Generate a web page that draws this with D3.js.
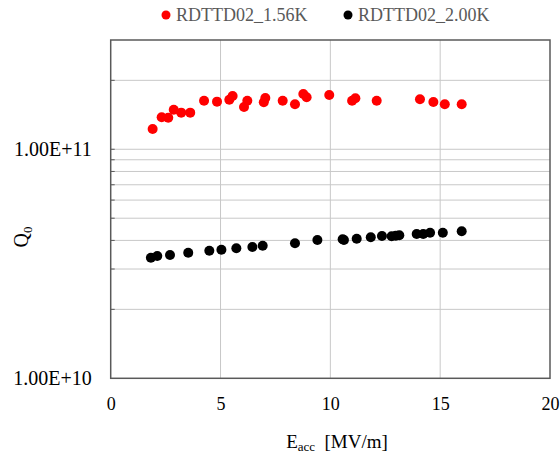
<!DOCTYPE html>
<html lang="en">
<head>
<meta charset="utf-8">
<title>Q0 vs Eacc</title>
<script src="https://cdn.jsdelivr.net/npm/d3@7"></script>
<style>
  body { margin: 0; background: #fff; }
  svg text { font-family: "Liberation Serif", "Times New Roman", serif; }
</style>
</head>
<body>
<svg id="chart" width="560" height="456"></svg>
<script>
// data: Eacc [MV/m], Q0
var eacc156 = [1.91, 2.32, 2.62, 2.87, 3.21, 3.62, 4.25, 4.84, 5.40, 5.55, 6.07, 6.22, 6.97, 7.04,
  7.83, 8.39, 8.77, 8.92, 9.95, 10.99, 11.14, 12.11, 14.08, 14.69, 15.21, 15.98];
var q156 = [1.227e11, 1.38e11, 1.374e11, 1.489e11, 1.445e11, 1.445e11, 1.63e11, 1.614e11, 1.646e11, 1.709e11,
  1.53e11, 1.63e11, 1.604e11, 1.675e11, 1.63e11, 1.573e11, 1.744e11, 1.687e11, 1.726e11, 1.63e11,
  1.67e11, 1.63e11, 1.654e11, 1.609e11, 1.573e11, 1.573e11];

var eacc200 = [1.83, 2.12, 2.70, 3.53, 4.49, 5.04, 5.72, 6.45, 6.92, 8.39, 9.41, 10.56, 10.62, 11.20,
  11.84, 12.35, 12.79, 12.98, 13.14, 13.93, 14.23, 14.54, 15.12, 15.98];
var q200 = [3.363e10, 3.42e10, 3.455e10, 3.536e10, 3.607e10, 3.644e10, 3.696e10, 3.745e10, 3.794e10,
  3.886e10, 4.018e10, 4.046e10, 4.02e10, 4.07e10, 4.127e10, 4.182e10, 4.169e10, 4.19e10, 4.21e10,
  4.266e10, 4.266e10, 4.323e10, 4.323e10, 4.385e10];

var seriesNames = ['RDTTD02_1.56K', 'RDTTD02_2.00K'];
var seriesColors = ['#ff0000', '#000000'];
var xTicks = [0, 5, 10, 15, 20];
var yLabelTicks = [1e10, 1e11];
var yGridTicks = [2e10, 3e10, 4e10, 5e10, 6e10, 7e10, 8e10, 9e10, 1e11, 2e11];

(function() {
  var svg = d3.select('#chart');
  var plotL = 110.7, plotR = 550, plotT = 40, plotB = 378.3;

  var x = d3.scaleLinear().domain([0, 20]).range([plotL, plotR]);
  var y = d3.scaleLog().domain([1e10, 3e11]).range([plotB, plotT]);

  // gridlines
  var grid = svg.append('g').attr('stroke', '#c8c8c8').attr('stroke-width', 1);
  grid.selectAll('line.h').data(yGridTicks).enter().append('line')
    .attr('x1', plotL).attr('x2', plotR)
    .attr('y1', function(d) { return y(d); }).attr('y2', function(d) { return y(d); });
  grid.selectAll('line.v').data(xTicks.slice(1, -1)).enter().append('line')
    .attr('y1', plotT).attr('y2', plotB)
    .attr('x1', function(d) { return x(d); }).attr('x2', function(d) { return x(d); });

  // small inner ticks on the left edge
  svg.append('g').attr('stroke', '#595959').selectAll('line').data(yGridTicks).enter().append('line')
    .attr('x1', plotL).attr('x2', plotL + 4)
    .attr('y1', function(d) { return y(d); }).attr('y2', function(d) { return y(d); });

  // plot frame
  svg.append('rect').attr('x', plotL).attr('y', plotT)
    .attr('width', plotR - plotL).attr('height', plotB - plotT)
    .attr('fill', 'none').attr('stroke', '#595959').attr('stroke-width', 1.5);

  // x tick labels
  var xAxis = d3.axisBottom(x).tickValues(xTicks).tickSize(0).tickPadding(19)
    .tickFormat(d3.format('d'));
  var gx = svg.append('g').attr('transform', 'translate(0,' + plotB + ')').call(xAxis);
  gx.select('.domain').remove();
  gx.selectAll('text').attr('font-size', 18).attr('fill', '#000')
    .style('font-family', '"Liberation Serif", serif');

  // y tick labels
  var yAxis = d3.axisLeft(y).tickValues(yLabelTicks).tickSize(0).tickPadding(19)
    .tickFormat(function(d) { return d.toExponential(2).toUpperCase(); });
  var gy = svg.append('g').attr('transform', 'translate(' + plotL + ',0)').call(yAxis);
  gy.select('.domain').remove();
  gy.selectAll('text').attr('font-size', 20).attr('fill', '#000')
    .style('font-family', '"Liberation Serif", serif');

  // points
  function drawSeries(xs, ys, color) {
    svg.append('g').selectAll('circle').data(xs).enter().append('circle')
      .attr('cx', function(d) { return x(d); })
      .attr('cy', function(d, i) { return y(ys[i]); })
      .attr('r', 5)
      .attr('fill', color);
  }
  drawSeries(eacc200, q200, seriesColors[1]);
  drawSeries(eacc156, q156, seriesColors[0]);

  // legend
  var legendX = [166, 348];
  var legend = svg.append('g');
  seriesNames.forEach(function(name, i) {
    legend.append('circle').attr('cx', legendX[i]).attr('cy', 15).attr('r', 4.5).attr('fill', seriesColors[i]);
    legend.append('text').attr('x', legendX[i] + 10).attr('y', 21)
      .attr('font-size', 18).attr('fill', '#595959').text(name);
  });

  // axis titles
  var xt = svg.append('text').attr('x', 337).attr('y', 448).attr('text-anchor', 'middle')
    .attr('font-size', 19).attr('fill', '#000');
  xt.append('tspan').text('E');
  xt.append('tspan').attr('font-size', 13).attr('dy', 3).text('acc');
  xt.append('tspan').attr('dy', -3).text('\u00a0 [MV/m]');

  var yt = svg.append('text').attr('transform', 'translate(28,237) rotate(-90)')
    .attr('text-anchor', 'middle').attr('font-size', 20).attr('fill', '#000');
  yt.append('tspan').text('Q');
  yt.append('tspan').attr('font-size', 13).attr('dy', 4).text('0');
})();
</script>
</body>
</html>
